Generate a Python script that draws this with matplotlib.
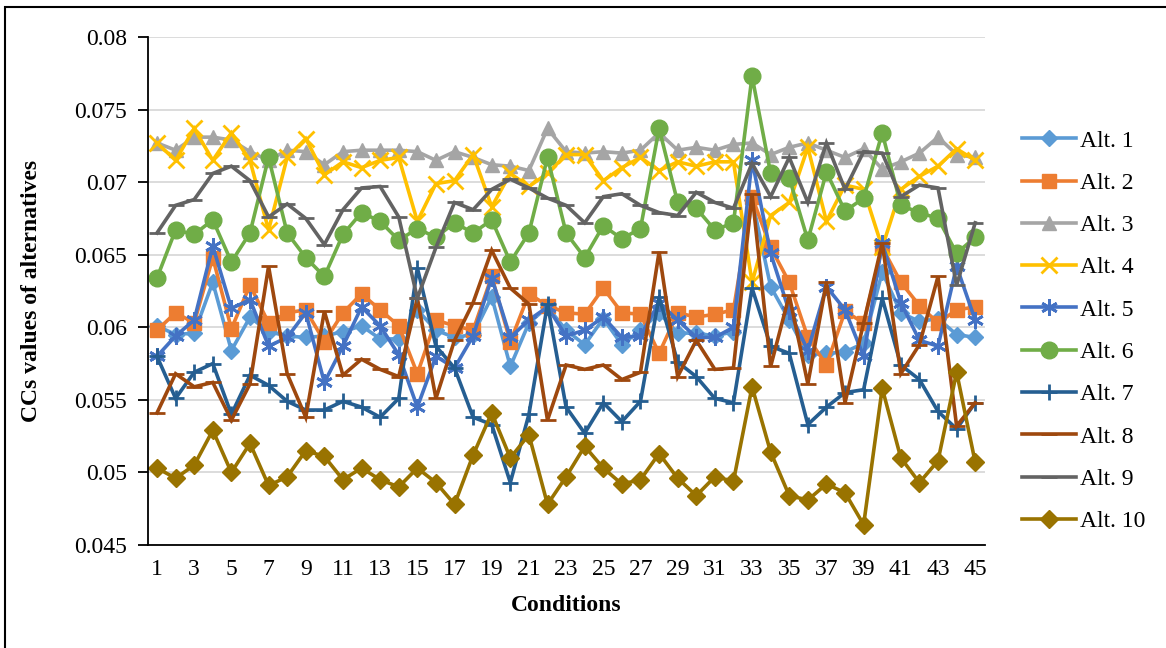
import matplotlib
matplotlib.use("Agg")
import matplotlib.pyplot as plt
from matplotlib.patches import Rectangle

plt.rcParams['font.family'] = ['Liberation Serif', 'DejaVu Serif']

conditions = list(range(1, 46))

alt1 = [0.0601, 0.0595, 0.0596, 0.0631, 0.0584, 0.0607, 0.0597, 0.0594, 0.0593, 0.0594,
        0.0597, 0.0601, 0.0592, 0.0592, 0.0612, 0.0598, 0.0593, 0.0595, 0.0621, 0.0573,
        0.0603, 0.0614, 0.0598, 0.0588, 0.0606, 0.0588, 0.0598, 0.0610, 0.0596, 0.0596,
        0.0594, 0.0597, 0.0688, 0.0628, 0.0605, 0.0581, 0.0582, 0.0583, 0.0589, 0.0638,
        0.0610, 0.0604, 0.0606, 0.0595, 0.0593]
alt2 = [0.0598, 0.0610, 0.0603, 0.0648, 0.0599, 0.0629, 0.0603, 0.0610, 0.0612, 0.0590,
        0.0610, 0.0623, 0.0612, 0.0601, 0.0568, 0.0605, 0.0601, 0.0598, 0.0635, 0.0590,
        0.0623, 0.0615, 0.0610, 0.0609, 0.0627, 0.0610, 0.0609, 0.0582, 0.0610, 0.0607,
        0.0609, 0.0612, 0.0690, 0.0655, 0.0631, 0.0593, 0.0574, 0.0611, 0.0603, 0.0655,
        0.0631, 0.0615, 0.0603, 0.0612, 0.0614]
alt3 = [0.0727, 0.0722, 0.0731, 0.0731, 0.0729, 0.0721, 0.0715, 0.0722, 0.0721, 0.0712,
        0.0721, 0.0722, 0.0722, 0.0722, 0.0721, 0.0715, 0.0721, 0.0717, 0.0712, 0.0711,
        0.0708, 0.0737, 0.0721, 0.0720, 0.0721, 0.0720, 0.0722, 0.0734, 0.0722, 0.0724,
        0.0722, 0.0726, 0.0727, 0.0719, 0.0724, 0.0727, 0.0722, 0.0717, 0.0723, 0.0709,
        0.0714, 0.0720, 0.0731, 0.0719, 0.0717]
alt4 = [0.0727, 0.0715, 0.0737, 0.0715, 0.0734, 0.0715, 0.0667, 0.0717, 0.0730, 0.0705,
        0.0714, 0.0710, 0.0715, 0.0717, 0.0673, 0.0699, 0.0701, 0.0719, 0.0683, 0.0706,
        0.0697, 0.0706, 0.0719, 0.0719, 0.0701, 0.0710, 0.0717, 0.0708, 0.0714, 0.0711,
        0.0714, 0.0714, 0.0631, 0.0677, 0.0686, 0.0724, 0.0673, 0.0698, 0.0695, 0.0655,
        0.0695, 0.0704, 0.0711, 0.0723, 0.0715]
alt5 = [0.0580, 0.0594, 0.0605, 0.0656, 0.0613, 0.0619, 0.0587, 0.0593, 0.0610, 0.0562,
        0.0587, 0.0614, 0.0601, 0.0581, 0.0545, 0.0580, 0.0572, 0.0594, 0.0634, 0.0593,
        0.0605, 0.0614, 0.0594, 0.0598, 0.0607, 0.0593, 0.0594, 0.0617, 0.0605, 0.0593,
        0.0593, 0.0600, 0.0715, 0.0651, 0.0611, 0.0584, 0.0628, 0.0612, 0.0580, 0.0658,
        0.0617, 0.0591, 0.0587, 0.0642, 0.0605]
alt6 = [0.0634, 0.0667, 0.0664, 0.0674, 0.0645, 0.0665, 0.0717, 0.0665, 0.0648, 0.0635,
        0.0664, 0.0679, 0.0673, 0.0660, 0.0668, 0.0662, 0.0672, 0.0665, 0.0674, 0.0645,
        0.0665, 0.0717, 0.0665, 0.0648, 0.0670, 0.0661, 0.0668, 0.0737, 0.0686, 0.0682,
        0.0667, 0.0672, 0.0773, 0.0706, 0.0703, 0.0660, 0.0707, 0.0680, 0.0689, 0.0734,
        0.0684, 0.0679, 0.0675, 0.0651, 0.0662]
alt7 = [0.0580, 0.0551, 0.0569, 0.0575, 0.0540, 0.0567, 0.0560, 0.0549, 0.0543, 0.0543,
        0.0549, 0.0545, 0.0538, 0.0551, 0.0641, 0.0587, 0.0572, 0.0538, 0.0533, 0.0493,
        0.0540, 0.0616, 0.0545, 0.0527, 0.0548, 0.0535, 0.0549, 0.0621, 0.0576, 0.0566,
        0.0551, 0.0548, 0.0627, 0.0587, 0.0582, 0.0533, 0.0545, 0.0555, 0.0557, 0.0620,
        0.0574, 0.0564, 0.0542, 0.0530, 0.0548]
alt8 = [0.0541, 0.0568, 0.0559, 0.0562, 0.0536, 0.0561, 0.0642, 0.0568, 0.0538, 0.0611,
        0.0567, 0.0578, 0.0571, 0.0566, 0.0620, 0.0551, 0.0591, 0.0617, 0.0653, 0.0627,
        0.0616, 0.0536, 0.0574, 0.0571, 0.0574, 0.0564, 0.0569, 0.0652, 0.0566, 0.0591,
        0.0571, 0.0572, 0.0692, 0.0573, 0.0622, 0.0561, 0.0631, 0.0548, 0.0603, 0.0658,
        0.0568, 0.0588, 0.0635, 0.0532, 0.0548]
alt9 = [0.0665, 0.0684, 0.0688, 0.0706, 0.0711, 0.0701, 0.0676, 0.0685, 0.0675, 0.0657,
        0.0681, 0.0696, 0.0697, 0.0676, 0.0620, 0.0655, 0.0686, 0.0681, 0.0695, 0.0702,
        0.0696, 0.0689, 0.0684, 0.0672, 0.0690, 0.0692, 0.0684, 0.0679, 0.0677, 0.0693,
        0.0686, 0.0682, 0.0713, 0.0690, 0.0717, 0.0686, 0.0727, 0.0695, 0.0721, 0.0720,
        0.0690, 0.0698, 0.0696, 0.0629, 0.0672]
alt10 = [0.0503, 0.0496, 0.0505, 0.0529, 0.0500, 0.0520, 0.0491, 0.0497, 0.0515, 0.0511,
         0.0495, 0.0503, 0.0495, 0.0490, 0.0503, 0.0493, 0.0478, 0.0512, 0.0541, 0.0510,
         0.0526, 0.0478, 0.0497, 0.0518, 0.0503, 0.0492, 0.0495, 0.0513, 0.0496, 0.0484,
         0.0497, 0.0494, 0.0559, 0.0514, 0.0484, 0.0481, 0.0492, 0.0486, 0.0464, 0.0558,
         0.0510, 0.0493, 0.0508, 0.0569, 0.0507]

names = ["Alt. 1", "Alt. 2", "Alt. 3", "Alt. 4", "Alt. 5",
         "Alt. 6", "Alt. 7", "Alt. 8", "Alt. 9", "Alt. 10"]
series = [alt1, alt2, alt3, alt4, alt5, alt6, alt7, alt8, alt9, alt10]
colors = ["#5B9BD5", "#ED7D31", "#A5A5A5", "#FFC000", "#4472C4",
          "#70AD47", "#255E91", "#9E480E", "#636363", "#997300"]
markers = ["D", "s", "^", "x", (6, 2, 0), "o", "+", "_", "_", "D"]
msizes = [8, 10, 10, 11, 12, 12, 12, 12, 12, 9]

fig = plt.figure(figsize=(11.66, 6.48), dpi=100)
ax = fig.add_axes([147.7 / 1166, 1 - 545 / 648, (984.5 - 147.7) / 1166, (545 - 37) / 648])

for vals, name, c, m, ms in zip(series, names, colors, markers, msizes):
    ax.plot(conditions, vals, color=c, lw=2.6, marker=m, markersize=ms,
            markeredgewidth=2 if m in ("x", "+", "_", (6, 2, 0)) else 1,
            markeredgecolor=c, markerfacecolor=c, label=name,
            solid_joinstyle="miter")

ax.set_xlim(0.5, 45.5)
ax.set_ylim(0.045, 0.08)
yt = [0.045, 0.05, 0.055, 0.06, 0.065, 0.07, 0.075, 0.08]
ax.set_yticks(yt)
ax.set_yticklabels([f"{v:g}" for v in yt])
ax.set_xticks(conditions[::2])
ax.set_xticklabels([str(c) for c in conditions[::2]])
ax.grid(axis="y", color="#D9D9D9", lw=1.3)
ax.set_axisbelow(True)
for s in ("top", "right"):
    ax.spines[s].set_visible(False)
ax.spines["left"].set_linewidth(1.3)
ax.spines["bottom"].set_linewidth(1.3)
ax.tick_params(axis="y", labelsize=17, length=7, width=1.3, pad=8)
ax.tick_params(axis="x", labelsize=17, length=0, pad=10)

ax.set_xlabel("Conditions", fontsize=17, fontweight="bold", labelpad=11)
ax.set_ylabel("CCs values of alternatives", fontsize=17, fontweight="bold", labelpad=23)

fig.legend(loc="upper left", bbox_to_anchor=(1022 / 1166, 1 - 130 / 648),
           frameon=False, fontsize=17, handlelength=2.3, handletextpad=0.15,
           labelspacing=0.88, borderpad=0, borderaxespad=0)

fig.add_artist(Rectangle((5 / 1166, -0.05), 1.2, 1 - 7 / 648 + 0.05,
                         transform=fig.transFigure, fill=False,
                         edgecolor="black", lw=1.5))

fig.savefig("out.png", dpi=100)
